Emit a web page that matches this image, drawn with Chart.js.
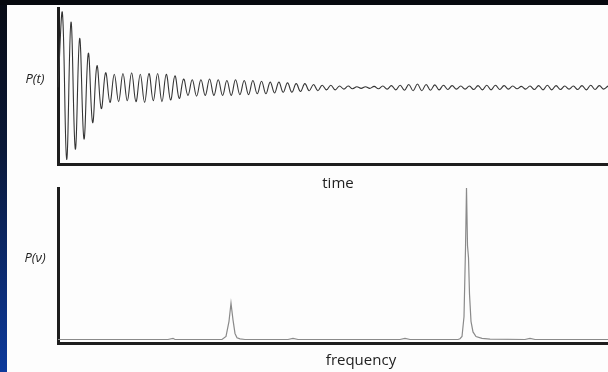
<!DOCTYPE html>
<html>
<head>
<meta charset="utf-8">
<script src="https://cdn.jsdelivr.net/npm/chart.js@4.4.0/dist/chart.umd.min.js"></script>
<style>
  html, body { margin: 0; padding: 0; }
  body { width: 608px; height: 372px; position: relative; overflow: hidden;
         background: linear-gradient(180deg, #080b14 0%, #0a1838 40%, #0d3a9c 100%); }
  #topband { position: absolute; left: 0; top: 0; width: 608px; height: 5px; background: #07090f; }
  #panel { position: absolute; left: 7px; top: 5px; width: 601px; height: 367px; background: #fdfdfd; }
  canvas { position: absolute; left: 0; }
  #c1 { top: 0; }
  #c2 { top: 180px; }
  .lbl { position: absolute; transform: translate(-50%, -50%); color: #222; white-space: nowrap;
         font-family: "Open Sans", "Liberation Sans", sans-serif; }
  .ylbl { font-style: italic; font-size: 13px; }
  .xlbl { font-size: 15px; }
</style>
</head>
<body>
<div id="topband"></div>
<div id="panel"></div>
<canvas id="c1" width="608" height="192"></canvas>
<canvas id="c2" width="608" height="192"></canvas>
<div class="lbl ylbl" style="left:35px; top:78px;">P(t)</div>
<div class="lbl ylbl" style="left:35px; top:257px;">P(ν)</div>
<div class="lbl xlbl" style="left:338px; top:182px;">time</div>
<div class="lbl xlbl" style="left:361px; top:359px;">frequency</div>
<script>
// Time-domain signal: successive extremes (peak / trough), equally spaced in time
const timeSignal = [
  0, 0.97, -0.92, 0.84, -0.79, 0.63, -0.66, 0.44, -0.45, 0.28, -0.27, 0.19, -0.19,
  0.17, -0.18, 0.18, -0.17, 0.19, -0.18, 0.17, -0.19, 0.18, -0.17, 0.18, -0.18, 0.17, -0.16, 0.15, -0.14,
  0.11, -0.10, 0.10, -0.11, 0.10, -0.10, 0.11, -0.10, 0.10, -0.10, 0.09, -0.10, 0.10, -0.09, 0.09, -0.09, 0.09, -0.08,
  0.08, -0.08, 0.07, -0.07, 0.07, -0.06, 0.06, -0.06, 0.05, -0.05, 0.05, -0.04, 0.04, -0.04, 0.03, -0.03, 0.03, -0.03, 0.02, -0.02, 0.02,
  -0.015, 0.01, -0.01, 0.01, -0.01, 0.015, -0.015, 0.02, -0.02, 0.025,
  -0.03, 0.03, -0.035, 0.04, -0.04, 0.045, -0.04, 0.04, -0.035, 0.035,
  -0.03, 0.03, -0.025, 0.025, -0.02, 0.02, -0.02, 0.02, -0.025, 0.025, -0.03, 0.03, -0.03, 0.03, -0.025, 0.025,
  -0.02, 0.02, -0.015, 0.015, -0.02, 0.02, -0.025, 0.025, -0.03, 0.03, -0.03, 0.025, -0.025, 0.02, -0.02, 0.02,
  -0.025, 0.025, -0.03, 0.03, -0.025, 0.025, -0.02, 0.02
];
const timeLabels = timeSignal.map((_, i) => i);

// Frequency-domain spectrum
const frequencies = [0, 110, 115, 117, 121, 164, 168, 171, 173, 175, 177, 179, 182, 187, 230, 235, 240,
  342, 347, 352, 400, 402, 404, 406, 407.5, 408.5, 409.5, 410.5, 411.5, 413, 415, 418, 424, 432,
  467, 472, 477, 550];
const power = [0, 0, 0.008, 0, 0, 0, 0.02, 0.12, 0.24, 0.13, 0.04, 0.012, 0.004, 0, 0, 0.008, 0,
  0, 0.008, 0, 0, 0.005, 0.02, 0.15, 0.6, 1.0, 0.62, 0.54, 0.3, 0.12, 0.05, 0.02, 0.008, 0.002,
  0, 0.008, 0, 0];

const axisBorder = { display: true, color: '#1e1e1e', width: 3 };

new Chart(document.getElementById('c1'), {
  type: 'line',
  data: {
    labels: timeLabels,
    datasets: [{
      data: timeSignal,
      borderColor: '#353535',
      borderWidth: 1.1,
      pointRadius: 0,
      tension: 0.4,
      fill: false
    }]
  },
  options: {
    responsive: false,
    animation: false,
    events: [],
    layout: { padding: { left: 58, top: 8, right: 0, bottom: 0 } },
    plugins: { legend: { display: false }, tooltip: { enabled: false } },
    scales: {
      x: {
        type: 'category',
        grid: { display: false },
        ticks: { display: false },
        border: axisBorder,
        afterFit: s => { s.height = 28; }
      },
      y: {
        min: -0.98, max: 1.02,
        grid: { display: false },
        ticks: { display: false },
        border: axisBorder,
        afterFit: s => { s.width = 0; }
      }
    }
  }
});

new Chart(document.getElementById('c2'), {
  type: 'line',
  data: {
    datasets: [{
      data: frequencies.map((f, i) => ({ x: f, y: power[i] })),
      borderColor: '#8a8a8a',
      borderWidth: 1.2,
      pointRadius: 0,
      tension: 0,
      fill: false
    }]
  },
  options: {
    responsive: false,
    animation: false,
    events: [],
    layout: { padding: { left: 58, top: 8, right: 0, bottom: 0 } },
    plugins: { legend: { display: false }, tooltip: { enabled: false } },
    scales: {
      x: {
        type: 'linear',
        min: 0, max: 550,
        grid: { display: false },
        ticks: { display: false },
        border: axisBorder,
        afterFit: s => { s.height = 29; }
      },
      y: {
        min: -0.023, max: 1.0,
        grid: { display: false },
        ticks: { display: false },
        border: axisBorder,
        afterFit: s => { s.width = 0; }
      }
    }
  }
});
</script>
</body>
</html>
